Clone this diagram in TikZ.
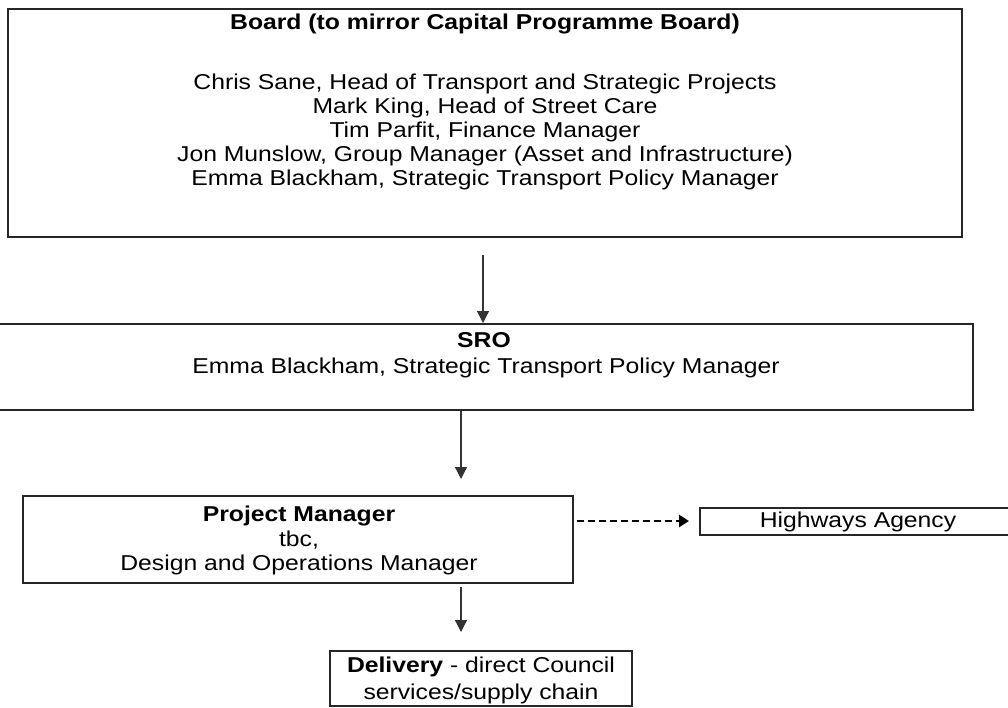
\documentclass[tikz,border=0pt]{standalone}
\usepackage{fontspec}
\setmainfont{Liberation Sans}[FakeStretch=1.15]
\usetikzlibrary{arrows.meta}
\begin{document}
\begin{tikzpicture}[x=1pt,y=-1pt,
  box/.style={draw=black!85, line width=1.8pt, inner sep=0pt},
  txt/.style={inner sep=0pt, font=\fontsize{21.5}{25}\selectfont, anchor=center},
  arr/.style={line width=1.2pt, draw=black!80, -{Triangle[length=12pt,width=12pt]}},
  darr/.style={line width=2.6pt, dash pattern=on 7pt off 4pt, -{Triangle[length=10pt,width=12pt]}}]
\useasboundingbox[fill=white] (0,0) rectangle (1008,708);

% Board
\draw[box] (8,9) rectangle (962,237);
\node[txt] (bt) at (485,24) {\textbf{Board (to mirror Capital Programme Board)}};
\node[txt] (b1) at (485,84) {Chris Sane, Head of Transport and Strategic Projects};
\node[txt] (b2) at (485,108) {Mark King, Head of Street Care};
\node[txt] (b3) at (485,132) {Tim Parfit, Finance Manager};
\node[txt] (b4) at (485,156) {Jon Munslow, Group Manager (Asset and Infrastructure)};
\node[txt] (b5) at (485,180) {Emma Blackham, Strategic Transport Policy Manager};

% SRO
\draw[box] (-5,324) rectangle (973,410);
\node[txt] (st) at (484,340) {\textbf{SRO}};
\node[txt] (s1) at (486,368) {Emma Blackham, Strategic Transport Policy Manager};

% Project Manager
\draw[box] (23,496) rectangle (573,583);
\node[txt] (pt) at (299,516) {\textbf{Project Manager}};
\node[txt] (p1) at (299,540) {tbc,};
\node[txt] (p2) at (299,565) {Design and Operations Manager};

% Highways
\draw[box] (700,508) rectangle (1015,535);
\node[txt] (h1) at (858,522) {Highways Agency};

% Delivery
\draw[box] (330,651) rectangle (632,706);
\node[txt] (d1) at (481,667) {\textbf{Delivery} - direct Council};
\node[txt] (d2) at (481,694) {services/supply chain};

% connectors
\coordinate (a1s) at (483,255);
\coordinate (a1e) at (483,323);
\coordinate (a2s) at (461,411);
\coordinate (a2e) at (461,479);
\coordinate (a3s) at (461,587);
\coordinate (a3e) at (461,632);
\coordinate (a4s) at (577,521);
\coordinate (a4e) at (689,521);
\draw[arr] (a1s) -- (a1e);
\draw[arr] (a2s) -- (a2e);
\draw[arr] (a3s) -- (a3e);
\draw[darr] (a4s) -- (a4e);
\end{tikzpicture}
\end{document}
